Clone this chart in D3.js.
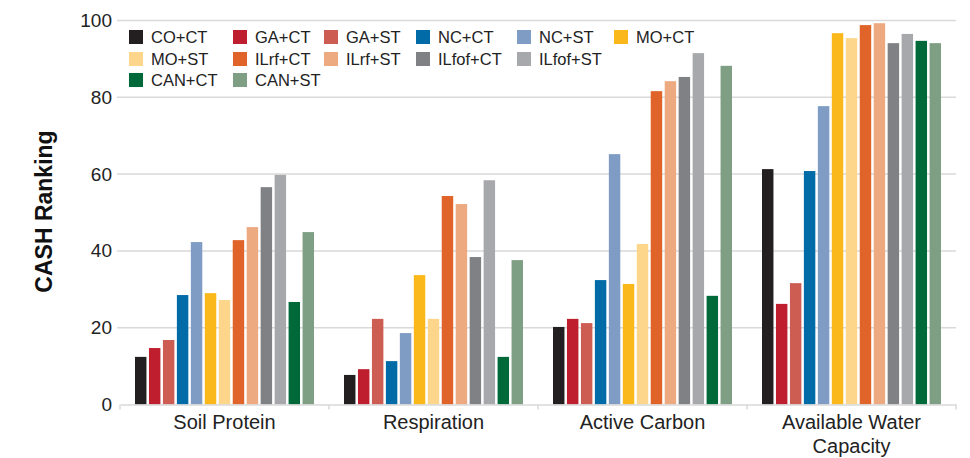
<!DOCTYPE html>
<html><head><meta charset="utf-8">
<script src="https://cdn.jsdelivr.net/npm/d3@7/dist/d3.min.js"></script>
<style>body{margin:0;background:#fff}svg{display:block;font-family:"Liberation Sans",Arial,sans-serif}</style>
</head><body><svg id="c" width="970" height="458"></svg>
<script>
const categories = ["Soil Protein", "Respiration", "Active Carbon", "Available Water Capacity"];
const seriesNames = ["CO+CT","GA+CT","GA+ST","NC+CT","NC+ST","MO+CT","MO+ST","ILrf+CT","ILrf+ST","ILfof+CT","ILfof+ST","CAN+CT","CAN+ST"];
const seriesColors = ["#231F20","#BE1E2D","#CD5C52","#006BA6","#7F9DC4","#FBB81B","#FDD68B","#E06329","#EDAA80","#808184","#A7A8AB","#00693A","#7F9F84"];
// values per series, in category order
const COCT   = [12.4, 7.7, 20.2, 61.3];
const GACT   = [14.7, 9.2, 22.3, 26.2];
const GAST   = [16.8, 22.3, 21.2, 31.6];
const NCCT   = [28.5, 11.3, 32.4, 60.8];
const NCST   = [42.3, 18.6, 65.2, 77.7];
const MOCT   = [29.0, 33.7, 31.4, 96.7];
const MOST   = [27.2, 22.3, 41.8, 95.4];
const ILrfCT = [42.8, 54.3, 81.6, 98.8];
const ILrfST = [46.2, 52.2, 84.2, 99.3];
const ILfofCT= [56.6, 38.4, 85.3, 94.1];
const ILfofST= [59.8, 58.4, 91.5, 96.5];
const CANCT  = [26.7, 12.4, 28.3, 94.7];
const CANST  = [44.9, 37.6, 88.2, 94.1];
const seriesValues = [COCT,GACT,GAST,NCCT,NCST,MOCT,MOST,ILrfCT,ILrfST,ILfofCT,ILfofST,CANCT,CANST];
const yTicks = [0,20,40,60,80,100];
const yTitle = "CASH Ranking";

(function(){
const svg = d3.select("#c");
const mLeft = 120, mRight = 956, mTop = 20.5, mBottom = 404.5;
const x0 = d3.scaleBand().domain(categories).range([mLeft, mRight]).padding(0);
const grpPad = 15;
const x1 = d3.scaleBand().domain(seriesNames).range([grpPad, x0.bandwidth() - grpPad]).paddingInner(0.18).paddingOuter(0);
const y = d3.scaleLinear().domain([0,100]).range([mBottom, mTop]);

// gridlines
svg.append("g").selectAll("line").data(yTicks.filter(d=>d>0)).join("line")
  .attr("x1", mLeft - 3).attr("x2", mRight).attr("y1", d=>y(d)).attr("y2", d=>y(d))
  .attr("stroke", "#d9d9d9").attr("stroke-width", 1.5);

// y axis labels
const yAxis = d3.axisLeft(y).tickValues(yTicks).tickSize(0).tickPadding(8);
const gy = svg.append("g").attr("transform", `translate(${mLeft},0)`).call(yAxis);
gy.select(".domain").remove();
gy.selectAll("text").attr("font-size", 19).attr("fill", "#222").attr("font-family", "Liberation Sans, Arial, sans-serif");

// bars
const groups = svg.append("g").selectAll("g").data(categories).join("g")
  .attr("transform", d => `translate(${x0(d)},0)`);
groups.selectAll("rect").data((c, ci) => seriesNames.map((s, si) => ({s, si, v: seriesValues[si][ci]}))).join("rect")
  .attr("x", d => x1(d.s)).attr("width", x1.bandwidth())
  .attr("y", d => y(d.v)).attr("height", d => y(0) - y(d.v))
  .attr("fill", d => seriesColors[d.si]);

// bottom axis
const xAxis = d3.axisBottom(x0).tickSize(0).tickFormat(() => "");
const gx = svg.append("g").attr("transform", `translate(0,${mBottom})`).call(xAxis);
gx.select(".domain").attr("stroke", "#d9d9d9").attr("stroke-width", 1.5);
const bounds = [mLeft].concat(categories.map(c => x0(c) + x0.bandwidth()));
svg.append("g").selectAll("line").data(bounds).join("line")
  .attr("x1", d=>d).attr("x2", d=>d).attr("y1", mBottom).attr("y2", mBottom + 5)
  .attr("stroke", "#d9d9d9").attr("stroke-width", 1.5);

// category labels
const wrapMap = {"Available Water Capacity": ["Available Water", "Capacity"]};
categories.forEach(c => {
  const lines = wrapMap[c] || [c];
  const cx = x0(c) + x0.bandwidth()/2;
  const t = svg.append("text").attr("x", cx).attr("y", 429)
    .attr("text-anchor", "middle").attr("font-size", 20).attr("fill", "#222");
  lines.forEach((l, i) => t.append("tspan").attr("x", cx).attr("dy", i ? 23.5 : 0).text(l));
});

// y title
svg.append("text").attr("transform", `translate(52,${(mTop+mBottom)/2 - 1}) rotate(-90)`)
  .attr("text-anchor", "middle").attr("font-size", 23).attr("font-weight", "bold").attr("fill", "#111").text(yTitle);

// legend
const legCols = [129, 233, 324, 416, 517, 614];
const legRows = [30, 52, 73];
const legendLayout = [6, 5, 2];
let idx = 0;
legendLayout.forEach((n, r) => {
  for (let k = 0; k < n; k++, idx++) {
    const g = svg.append("g").attr("transform", `translate(${legCols[k]},${legRows[r]})`);
    g.append("rect").attr("width", 14).attr("height", 14).attr("fill", seriesColors[idx]);
    g.append("text").attr("x", 22).attr("y", 13).attr("font-size", 16.5).attr("fill", "#222").text(seriesNames[idx]);
  }
});
})();
</script></body></html>
